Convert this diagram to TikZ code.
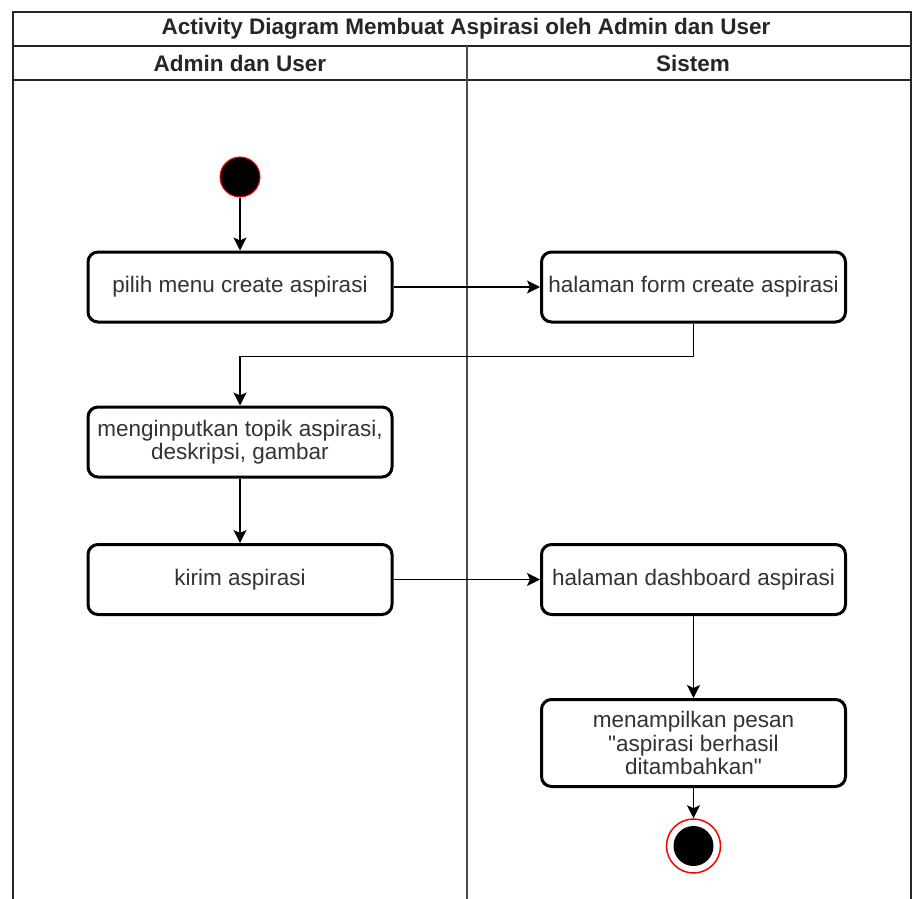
\documentclass[tikz,border=0pt]{standalone}
\usepackage{fontspec}
\setmainfont{Liberation Sans}[Ligatures=TeXOff]
\usetikzlibrary{arrows.meta}
\begin{document}
\begin{tikzpicture}[x=1pt,y=-1pt,
  lane/.style={draw=black!85,line width=1.4pt},
  act/.style={draw=black,line width=3pt,rounded corners=10pt,fill=white,
    minimum width=304pt,minimum height=70pt,align=center,
    font=\fontsize{22.5}{23.5}\selectfont,text=black!80,inner sep=2pt},
  flow/.style={draw=black,line width=1.4pt,
    -{Stealth[length=13pt,width=13pt,inset=3pt]}},
  hdr/.style={font=\bfseries\fontsize{22.5}{24}\selectfont,text=black!85}]
\useasboundingbox (0,0) rectangle (913,899);
% swimlane frame
\draw[lane] (13,899) -- (13,12) -- (911,12) -- (911,899);
\draw[lane] (13,46) -- (911,46);
\draw[lane] (13,80) -- (911,80);
\draw[lane,draw=black!70] (467,46) -- (467,899);
\node[hdr] (title) at (466,29) {Activity Diagram Membuat Aspirasi oleh Admin dan User};
\node[hdr] (laneA) at (240,63) {Admin dan User};
\node[hdr] (laneB) at (693,63) {Sistem};
% start state
\node[circle,fill=black,draw=red,line width=1pt,minimum size=40pt,inner sep=0pt] (start) at (240,177) {};
% activities
\node[act] (b1) at (240,287) {pilih menu create aspirasi};
\node[act] (b2) at (693.5,287) {halaman form create aspirasi};
\node[act] (b3) at (240,442) {menginputkan topik aspirasi,\\deskripsi, gambar};
\node[act] (b4) at (240,579.5) {kirim aspirasi};
\node[act] (b5) at (693.5,579.5) {halaman dashboard aspirasi};
\node[act,minimum height=87pt] (b6) at (693.5,743) {menampilkan pesan\\"aspirasi berhasil\\ditambahkan"};
% final state
\node[circle,draw=red,line width=1.5pt,minimum size=54pt,inner sep=0pt] (stop) at (693.5,846) {};
\node[circle,fill=black,minimum size=40pt,inner sep=0pt] (stopdot) at (stop.center) {};
% control flow
\draw[flow] (start) -- (b1);
\draw[flow] (b1) -- (b2);
\draw[flow] (b2.south) -- ++(0,33) -| (b3.north);
\draw[flow] (b3) -- (b4);
\draw[flow] (b4) -- (b5);
\draw[flow] (b5) -- (b6);
\draw[flow] (b6) -- (stop);
\end{tikzpicture}
\end{document}
